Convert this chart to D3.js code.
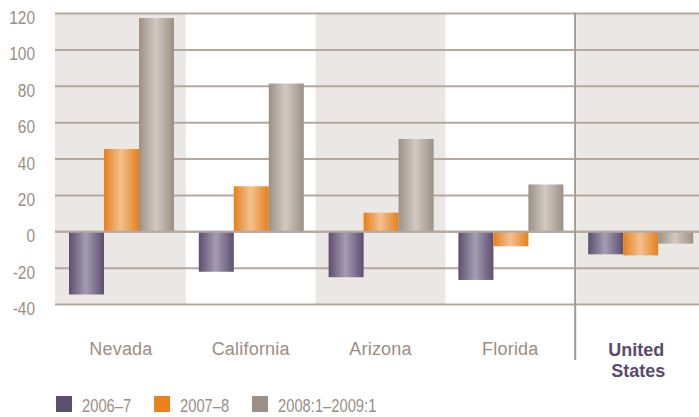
<!DOCTYPE html>
<html>
<head>
<meta charset="utf-8">
<script src="https://cdn.jsdelivr.net/npm/d3@7"></script>
<style>
  body { margin: 0; background: #fff; }
  text { font-family: "Liberation Sans Narrow", "Liberation Sans", Arial, sans-serif; }
</style>
</head>
<body>
<div id="chart"></div>
<script>
const categories = ["Nevada", "California", "Arizona", "Florida", "United States"];
const seriesNames = ["2006–7", "2007–8", "2008:1–2009:1"];
const v2006 = [-34.5, -22, -25, -26.5, -12.4];
const v2007 = [45.5, 25, 10.5, -8, -13];
const v2008 = [117.5, 81.5, 51, 26, -6.5];
const yTicks = [120, 100, 80, 60, 40, 20, 0, -20, -40];

const colors = {
  "2006–7": { edge: "#5e4e70", mid: "#a49db1", key: "#5e4d73" },
  "2007–8": { edge: "#e5801c", mid: "#f3c18f", key: "#e8821e" },
  "2008:1–2009:1": { edge: "#9c9084", mid: "#d1cac2", key: "#9c9184" }
};

const drawChart = () => {
  const width = 699;
  const height = 417;
  const left = 55;
  const textColor = "#9b8e83";
  const gridColor = "#b3a99f";

  const rows = categories.map((c, i) => ({
    name: c,
    values: [v2006[i], v2007[i], v2008[i]].map((v, j) => ({ series: seriesNames[j], value: v }))
  }));

  const x = d3.scaleBand().domain(categories).range([56, 705]);
  const xi = d3.scaleBand().domain(seriesNames).range([13, 118]);
  const y = d3.scaleLinear().domain([-40, 120]).range([304.5, 13.5]);

  const svg = d3.select("#chart").append("svg")
      .attr("width", width)
      .attr("height", height);

  const defs = svg.append("defs");
  seriesNames.forEach((s, i) => {
    const g = defs.append("linearGradient")
        .attr("id", "grad" + i)
        .attr("x1", "0%").attr("x2", "100%")
        .attr("y1", "0%").attr("y2", "0%");
    g.append("stop").attr("offset", "0%").attr("stop-color", colors[s].edge);
    g.append("stop").attr("offset", "48%").attr("stop-color", colors[s].mid);
    g.append("stop").attr("offset", "100%").attr("stop-color", colors[s].edge);
  });

  // shaded bands behind Nevada, Arizona, US
  const bands = [
    [left, x("California")],
    [x("Arizona"), x("Florida")],
    [x("United States") + 2, width]
  ];
  svg.selectAll("rect.band").data(bands).enter().append("rect")
      .attr("class", "band")
      .attr("x", d => d[0])
      .attr("y", y(120))
      .attr("width", d => d[1] - d[0])
      .attr("height", y(-40) - y(120))
      .attr("fill", "#ebe7e4");

  svg.selectAll("line.grid").data(yTicks).enter().append("line")
      .attr("class", "grid")
      .attr("x1", left).attr("x2", width)
      .attr("y1", d => y(d)).attr("y2", d => y(d))
      .attr("stroke", gridColor)
      .attr("stroke-width", 2);

  // tick labels, squeezed a bit to look like a condensed face
  svg.selectAll("text.tick").data(yTicks).enter().append("text")
      .attr("class", "tick")
      .attr("transform", d => `translate(35,${y(d) + 10.5}) scale(0.86,1)`)
      .attr("text-anchor", "end")
      .attr("font-size", 18)
      .attr("fill", textColor)
      .text(d => d);

  const groups = svg.selectAll("g.cat").data(rows).enter().append("g")
      .attr("class", "cat")
      .attr("transform", d => `translate(${x(d.name)},0)`);

  groups.selectAll("rect").data(d => d.values).enter().append("rect")
      .attr("x", d => xi(d.series))
      .attr("width", xi.bandwidth())
      .attr("y", d => y(Math.max(0, d.value)))
      .attr("height", d => Math.abs(y(d.value) - y(0)))
      .attr("fill", d => `url(#grad${seriesNames.indexOf(d.series)})`);

  // zero line over the bars
  svg.append("line")
      .attr("x1", left).attr("x2", width)
      .attr("y1", y(0)).attr("y2", y(0))
      .attr("stroke", gridColor)
      .attr("stroke-width", 2);

  // divider before United States
  svg.append("line")
      .attr("x1", x("United States")).attr("x2", x("United States"))
      .attr("y1", y(120) - 1).attr("y2", 360)
      .attr("stroke", "#a3998e")
      .attr("stroke-width", 2);

  svg.selectAll("text.cat").data(categories.slice(0, 4)).enter().append("text")
      .attr("class", "cat")
      .attr("x", d => x(d) + x.bandwidth() / 2)
      .attr("y", 355)
      .attr("text-anchor", "middle")
      .attr("font-size", 18)
      .attr("letter-spacing", 0.2)
      .attr("fill", textColor)
      .text(d => d);

  const us = svg.append("text")
      .attr("text-anchor", "middle")
      .attr("font-size", 18)
      .attr("font-weight", "bold")
      .attr("fill", "#5b4a70");
  us.append("tspan").attr("x", x("United States") + 61).attr("y", 356).text("United");
  us.append("tspan").attr("x", x("United States") + 63).attr("y", 377).text("States");

  const legendX = [56, 154, 252];
  const legend = svg.selectAll("g.key").data(seriesNames).enter().append("g")
      .attr("class", "key")
      .attr("transform", (d, i) => `translate(${legendX[i]},396)`);
  legend.append("rect")
      .attr("width", 16).attr("height", 16)
      .attr("fill", d => colors[d].key);
  legend.append("text")
      .attr("transform", "translate(26,16) scale(0.82,1)")
      .attr("font-size", 18)
      .attr("fill", textColor)
      .text(d => d);
};

window.onload = drawChart;
</script>
</body>
</html>
